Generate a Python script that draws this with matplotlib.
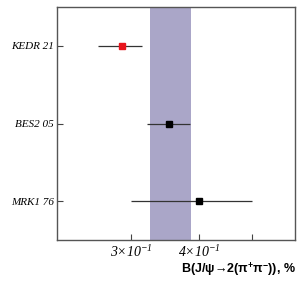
import matplotlib
matplotlib.use("Agg")
import matplotlib.pyplot as plt
from matplotlib.ticker import FixedLocator, NullLocator, NullFormatter

plt.rcParams["mathtext.fontset"] = "custom"
plt.rcParams["mathtext.rm"] = "Liberation Serif:italic"
plt.rcParams["mathtext.it"] = "Liberation Serif:italic"
plt.rcParams["mathtext.bf"] = "Liberation Sans:bold"

# measurements, B(J/psi -> 2(pi+pi-)), %
experiments = ["KEDR 21", "BES2 05", "MRK1 76"]
values = [0.288, 0.352, 0.400]
err_low = [0.027, 0.032, 0.100]
err_high = [0.026, 0.033, 0.100]
colors = ["#e8141c", "#000000", "#000000"]

# average band
band_lo = 0.325
band_hi = 0.387

tick_vals = [0.3, 0.4, 0.5]
tick_labels = [r"$3{\times}10^{-1}$", r"$4{\times}10^{-1}$", ""]

serif = ["Liberation Serif", "DejaVu Serif"]
sans = ["Liberation Sans", "DejaVu Sans"]

fig = plt.figure(figsize=(2.97, 2.82), dpi=100)
ax = fig.add_axes([0.192, 0.149, 0.801, 0.826])

ax.axvspan(band_lo, band_hi, color="#aaa6c8", lw=0, zorder=0)

ypos = [3, 2, 1]
for i in range(len(experiments)):
    ax.errorbar(values[i], ypos[i], xerr=[[err_low[i]], [err_high[i]]],
                fmt="s", color=colors[i], ecolor="#333333", elinewidth=0.9,
                markersize=4.5, capsize=0, zorder=3)

ax.set_xscale("log")
ax.set_xlim(0.219, 0.60)
ax.set_ylim(0.5, 3.5)

ax.xaxis.set_major_locator(FixedLocator(tick_vals))
ax.xaxis.set_minor_locator(NullLocator())
ax.xaxis.set_minor_formatter(NullFormatter())
ax.set_xticklabels(tick_labels, family=serif, style="italic", fontsize=10)
ax.set_yticks(ypos)
ax.set_yticklabels(experiments, family=serif, style="italic", fontsize=8)

ax.tick_params(axis="both", direction="in", length=4, width=0.8, color="#444444")
ax.tick_params(axis="x", pad=3)
ax.tick_params(axis="y", pad=2)
for s in ax.spines.values():
    s.set_color("#555555")
    s.set_linewidth(1.0)

fig.text(0.995, 0.045, r"B(J/ψ→2(π$^{\mathbf{+}}$π$^{\mathbf{-}}$)), %", ha="right", va="center",
         family=sans, weight="bold", fontsize=9)

fig.savefig("out.png", dpi=100)
